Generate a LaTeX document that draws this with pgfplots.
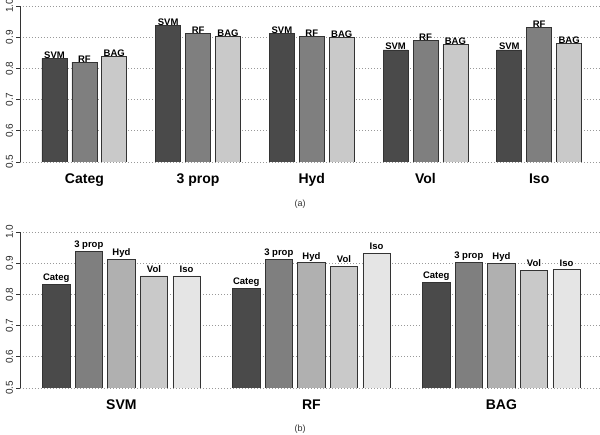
\documentclass[border=0pt]{standalone}
\usepackage{fontspec}
\setmainfont{Liberation Sans}
\usepackage{pgfplots}
\pgfplotsset{compat=1.18}

\definecolor{gA}{HTML}{4A4A4A}
\definecolor{gB}{HTML}{7F7F7F}
\definecolor{gC}{HTML}{B0B0B0}
\definecolor{gD}{HTML}{C9C9C9}
\definecolor{gE}{HTML}{E5E5E5}
\definecolor{edge}{HTML}{333333}

\pgfplotsset{
  panel/.style={
    scale only axis, width=580pt, height=156pt,
    xmin=20, xmax=600, ymin=0.5, ymax=1.0,
    axis y line*=left, axis x line*=bottom,
    x axis line style={draw=none},
    xtick style={draw=none},
    ytick={0.5,0.6,...,1.0},
    yticklabel style={rotate=90, anchor=south, font=\fontsize{10}{12}\selectfont, text=black!85},
    /pgf/number format/.cd, fixed, fixed zerofill, precision=1, assume math mode=true,
    /pgfplots/.cd,
    tick align=outside, major tick length=3.5pt,
    ytick style={black!80, line width=0.7pt},
    y axis line style={black!80, line width=0.7pt},
    ymajorgrids, grid style={dash pattern=on 1pt off 2pt, black!40, line width=0.6pt},
    xticklabel style={anchor=base, yshift=-18pt, font=\bfseries\fontsize{14}{16}\selectfont},
    ybar, bar shift=0pt,
    every axis plot/.append style={draw=edge, line width=0.7pt},
    every node near coord/.append style={anchor=base, inner sep=0pt, font=\bfseries\fontsize{9.5}{11}\selectfont, text=black},
  },
}

\begin{document}
\begin{tikzpicture}[x=1pt,y=1pt]
\useasboundingbox (0,0) rectangle (600,435);

% (a) grouped by feature set
\begin{axis}[panel, at={(20pt,273pt)}, anchor=south west,
  bar width=25,
  xtick={84.4,198.1,311.8,425.5,539.2},
  xticklabels={Categ,3 prop,Hyd,Vol,Iso}]
\addplot[fill=gA, nodes near coords={SVM}] coordinates
  {(54.5,0.832) (168.2,0.939) (281.9,0.912) (395.6,0.859) (509.3,0.859)};
\addplot[fill=gB, nodes near coords={RF}] coordinates
  {(84.4,0.820) (198.1,0.912) (311.8,0.902) (425.5,0.890) (539.2,0.932)};
\addplot[fill=gD, nodes near coords={BAG}] coordinates
  {(114.3,0.839) (228.0,0.903) (341.7,0.900) (455.4,0.877) (569.1,0.879)};
\end{axis}
\node[anchor=base, font=\fontsize{9}{11}\selectfont, text=black!80] at (300,228) {(a)};

% (b) grouped by classifier
\begin{axis}[panel, at={(20pt,47pt)}, anchor=south west,
  bar width=27.5,
  every node near coord/.append style={yshift=3.5pt},
  xtick={121.4,311.4,501.4},
  xticklabels={SVM,RF,BAG}]
\addplot[fill=gA, nodes near coords={Categ}] coordinates
  {(56.2,0.832) (246.2,0.820) (436.2,0.839)};
\addplot[fill=gB, nodes near coords={3 prop}] coordinates
  {(88.8,0.939) (278.8,0.912) (468.8,0.903)};
\addplot[fill=gC, nodes near coords={Hyd}] coordinates
  {(121.4,0.912) (311.4,0.902) (501.4,0.900)};
\addplot[fill=gD, nodes near coords={Vol}] coordinates
  {(154.0,0.859) (344.0,0.890) (534.0,0.877)};
\addplot[fill=gE, nodes near coords={Iso}] coordinates
  {(186.6,0.859) (376.6,0.932) (566.6,0.879)};
\end{axis}
\node[anchor=base, font=\fontsize{9}{11}\selectfont, text=black!80] at (300,3) {(b)};
\end{tikzpicture}
\end{document}
